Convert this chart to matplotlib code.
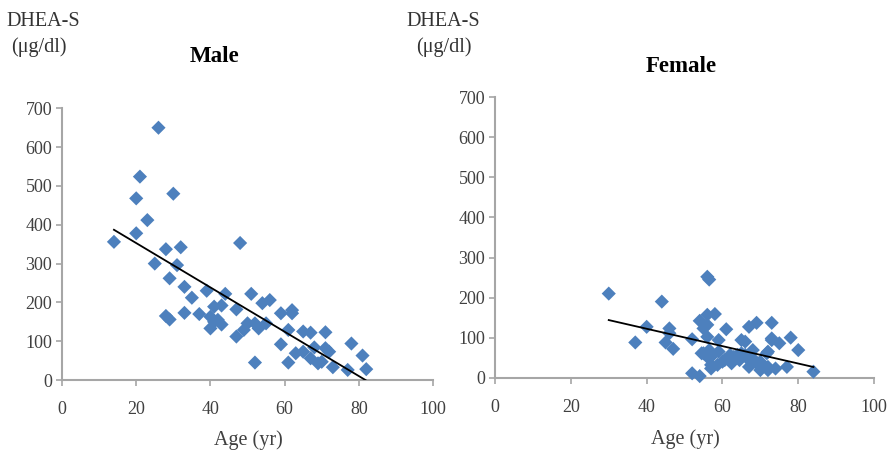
import numpy as np
import matplotlib
matplotlib.use("Agg")
import matplotlib.pyplot as plt

plt.rcParams['font.family'] = ['Liberation Serif', 'DejaVu Serif']

# Male: age (yr) and DHEA-S (ug/dl)
male_age = [14, 26, 21, 20, 30, 23, 20, 28, 32, 25, 31, 29, 33, 35, 39, 44,
            33, 37, 28, 29, 41, 43, 40, 41, 40, 43, 42, 47, 48, 47, 49, 50,
            51, 54, 56, 52, 53, 55, 52, 59, 62, 62, 61, 59, 61, 63, 65, 67,
            65, 67, 68, 69, 71, 71, 72, 70, 73, 77, 78, 81, 82]
male_dhea = [356, 650, 524, 468, 480, 412, 378, 337, 342, 300, 296, 262, 240,
             212, 230, 222, 173, 170, 165, 156, 189, 192, 163, 150, 133, 143,
             155, 182, 353, 112, 129, 146, 222, 198, 206, 146, 133, 146, 45,
             172, 180, 172, 129, 92, 45, 69, 125, 122, 73, 56, 84, 43, 123, 82,
             73, 47, 33, 26, 94, 63, 28]

# Female: age (yr) and DHEA-S (ug/dl)
female_age = [30, 44, 37, 40, 46, 46, 45, 47, 52, 52, 54, 56, 56.5, 54, 56,
              58, 55, 61, 56, 55, 56, 57, 57, 59, 59, 57.5, 60, 62, 62.4, 63,
              65, 66, 67, 69, 66, 67, 68, 67, 69, 70, 72, 73, 73, 75, 72, 74,
              77, 78, 80, 84, 72, 64, 64.5, 68, 70, 56.5, 54.5, 56, 58.7, 60.6,
              65, 71.7, 73]
female_dhea = [210, 190, 88, 127, 123, 111, 88, 72, 96, 11, 4, 252, 245, 142,
               157, 159, 123, 121, 132, 61, 102, 32, 23, 94, 65, 57, 40, 57,
               36, 52, 94, 90, 127, 137, 57, 44, 69, 27, 36, 19, 65, 137, 94,
               86, 19, 23, 27, 100, 69, 15, 27, 57, 44, 48, 40, 69, 61, 52, 32,
               44, 61, 61, 98]

# linear trend lines: (slope, intercept, x start, x end)
male_fit = (-5.71, 467, 14, 81.8)
female_fit = (-2.17, 209, 30, 84)

blue = '#4d80bd'
grey = '#a6a6a6'

fig = plt.figure(figsize=(8.91, 4.53), dpi=100)
ax_m = fig.add_axes([0.0696, 0.1611, 0.4164, 0.5998])
ax_f = fig.add_axes([0.5556, 0.1662, 0.4254, 0.6190])


def draw_panel(ax, age, dhea, fit):
    ax.scatter(age, dhea, marker='D', s=52, color=blue, edgecolors='none',
               zorder=3, clip_on=False)
    slope, icpt, x0, x1 = fit
    xs = np.array([x0, x1])
    ax.plot(xs, slope * xs + icpt, color='black', lw=1.3, zorder=4)
    ax.set_xlim(0, 100)
    ax.set_ylim(0, 700)
    ax.set_xticks(range(0, 101, 20))
    ax.set_yticks(range(0, 701, 100))
    for side in ['top', 'right']:
        ax.spines[side].set_visible(False)
    for side in ['left', 'bottom']:
        ax.spines[side].set_color(grey)
        ax.spines[side].set_linewidth(1.5)
    ax.tick_params(axis='both', direction='out', length=4, width=1.2,
                   color=grey, labelsize=13, labelcolor='#404040')
    ax.tick_params(axis='x', pad=11)
    ax.tick_params(axis='y', pad=3)


draw_panel(ax_m, male_age, male_dhea, male_fit)
draw_panel(ax_f, female_age, female_dhea, female_fit)

H = 453.0
W = 891.0


def ftext(x, y, s, **kw):
    fig.text(x / W, 1 - y / H, s, ha='center', va='center', **kw)


ftext(43, 21, 'DHEA-S', fontsize=14.5, color='#333333')
ftext(39, 47, '(μg/dl)', fontsize=14.5, color='#333333')
ftext(215, 57, 'Male', fontsize=16.5, fontweight='bold')
ftext(248, 440, 'Age (yr)', fontsize=14.5, color='#404040')

ftext(443, 21, 'DHEA-S', fontsize=14.5, color='#333333')
ftext(444, 47, '(μg/dl)', fontsize=14.5, color='#333333')
ftext(681, 66, 'Female', fontsize=16.5, fontweight='bold')
ftext(685, 439, 'Age (yr)', fontsize=14.5, color='#404040')

fig.savefig('out.png', dpi=100)
